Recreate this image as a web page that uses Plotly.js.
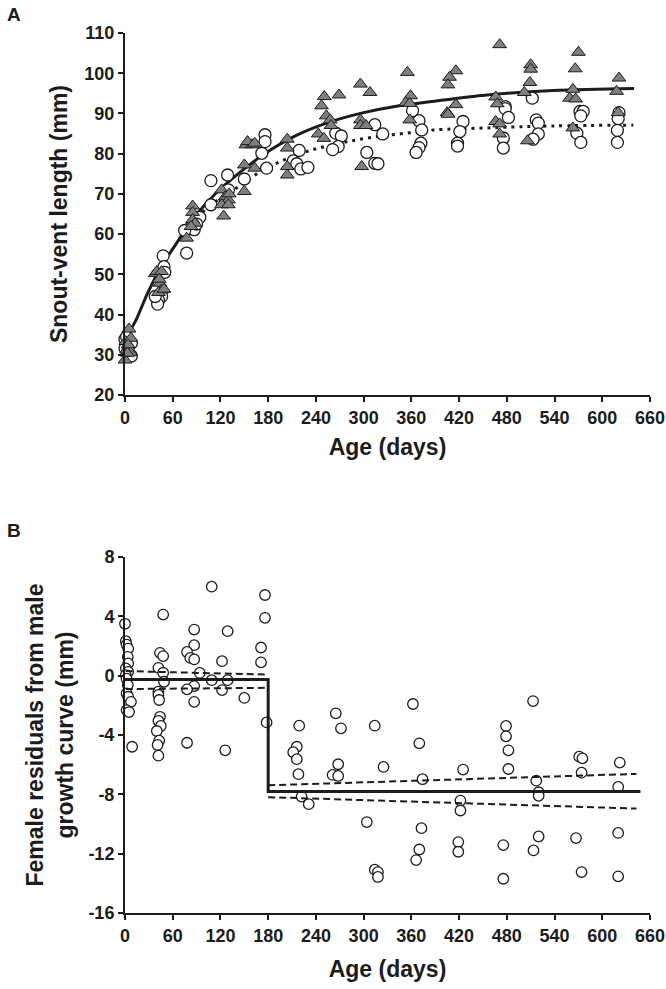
<!DOCTYPE html>
<html>
<head>
<meta charset="utf-8">
<script src="https://cdn.plot.ly/plotly-3.0.1.min.js"></script>
<style>
  html, body { margin: 0; padding: 0; background: #fff; }
  #plot { width: 666px; height: 989px; }
</style>
</head>
<body>
<div id="plot"></div>
<script>
// Panel A: measured snout-vent length (mm) against age (days)
const maleDays = [5, 1, 7.5, 2, 7, 0, 3, 4,
  38, 40, 46, 44, 46, 42, 49, 43,
  85, 85, 85, 88, 83, 77.5,
  121.5, 126, 130, 121.5, 130, 124, 131,
  152, 160, 154, 163, 150, 163, 150,
  204, 204, 204, 204,
  250.5, 247, 253, 258, 259, 243, 250, 269,
  296, 308, 296, 296, 303, 297.5,
  355, 359, 353, 358, 358,
  416, 408, 406, 416, 405, 406,
  471, 466, 468, 466, 471, 471,
  510, 510, 509, 502, 506,
  570, 566, 563, 559, 566.5, 563,
  621, 618, 620];
const maleSvl = [36.4, 33.3, 34.1, 31.2, 30.5, 28.7, 30.4, 32.5,
  50.2, 50.7, 50.7, 47.8, 46.1, 45.5, 46.3, 48.8,
  67.0, 65.4, 63.6, 62.7, 61.9, 59.0,
  71.0, 69.3, 68.5, 67.3, 67.3, 64.5, 70.0,
  82.2, 82.2, 83.0, 82.6, 77.2, 76.4, 70.6,
  83.6, 81.4, 76.8, 74.7,
  94.2, 91.9, 89.4, 88.4, 87.0, 84.9, 83.8, 94.6,
  97.3, 95.2, 88.4, 87.0, 87.0, 76.8,
  100.2, 94.4, 92.7, 92.5, 88.4,
  100.6, 99.0, 97.1, 92.2, 90.2, 89.8,
  107.1, 94.1, 92.4, 88.0, 87.4, 84.9,
  102.1, 101.0, 97.7, 95.2, 83.2,
  105.2, 101.1, 96.0, 93.8, 93.6, 86.4,
  98.8, 95.5, 90.2];

const femaleDays = [0, 8, 0, 8, 4, 2,
  48, 49, 46, 42, 41, 50, 38,
  94, 82, 87, 77.5, 75, 90,
  129, 108, 108, 126, 130,
  150, 176, 176, 172, 178,
  219, 211.5, 216, 221, 230,
  265, 272, 268, 261,
  314, 324, 304, 314, 318,
  361.5, 369.6, 373, 372, 369.6, 366,
  425, 421, 418, 418,
  478, 478, 482, 475.6, 475.6,
  512, 517, 519.6, 519.6, 513,
  572, 576, 573, 568, 573,
  621, 620, 619, 619];
const femaleSvl = [33.9, 32.9, 31.6, 29.7, 31.1, 34.5,
  54.6, 51.9, 44.5, 43.6, 42.6, 50.5, 44.5,
  64.2, 61.5, 61.1, 55.3, 60.9, 62.5,
  74.7, 73.3, 67.3, 68.1, 71.0,
  73.7, 84.7, 83.0, 80.1, 76.4,
  80.8, 78.2, 77.5, 76.2, 76.6,
  85.1, 84.4, 81.8, 81.0,
  87.2, 84.9, 80.3, 77.6, 77.5,
  90.7, 88.2, 85.9, 82.6, 81.5, 80.3,
  88.0, 85.5, 82.6, 81.9,
  91.7, 91.2, 89.0, 83.9, 81.4,
  93.8, 88.4, 87.6, 84.9, 83.6,
  90.5, 90.5, 89.4, 85.1, 82.8,
  90.2, 88.7, 85.8, 82.8];

// fitted growth curves
const maleCurveDays = [0, 4, 13, 29, 46, 63, 84, 113, 138, 163, 174, 216, 258, 300, 341, 383, 455, 538, 640];
const maleCurveSvl = [34.0, 35.3, 38.3, 45.6, 52.0, 57.2, 63.4, 69.9, 74.3, 78.2, 79.8, 84.6, 87.9, 90.2, 91.8, 92.9, 94.6, 95.7, 96.2];
const femaleCurveDays = [90, 98, 120, 149, 161, 186, 228, 270, 312, 358, 388, 455, 538, 639];
const femaleCurveSvl = [64.2, 65.6, 69.0, 72.6, 74.4, 77.2, 80.5, 82.6, 84.1, 85.2, 85.9, 86.4, 86.9, 87.1];

// Panel B: female residuals from the male growth curve (mm)
const residDays = [0, 1, 2, 4, 3.5, 4, 1, 4, 1, 2, 3.5, 2, 4, 7.5, 2, 5, 9,
  48, 44, 48, 42, 48, 49, 42, 42, 43, 44, 42, 45, 40, 43, 41, 42,
  87, 87, 78, 82, 87, 94, 87, 78, 87, 78,
  109, 129, 122, 109, 129, 122, 126,
  150,
  176, 176, 171, 171, 178,
  219, 216, 211.5, 216, 218, 222, 231,
  265, 271.5, 268, 261, 268,
  314, 325, 304, 314, 318, 318,
  362, 370, 374, 372.7, 370, 366,
  425, 421.7, 421.7, 419, 419,
  479, 479, 482, 482, 475.6, 475.6,
  513, 517, 520, 520, 520, 513.5,
  571, 575, 574, 567, 574,
  622, 620, 620, 620];
const residVals = [3.5, 2.33, 2.1, 1.83, 1.27, 0.83, 0.49, 0.26, 0.04, -0.2, -0.63, -1.19, -1.42, -1.76, -2.32, -2.45, -4.79,
  4.12, 1.54, 1.32, 0.53, 0.2, -0.41, -1.08, -1.3, -1.64, -2.77, -3.04, -3.39, -3.73, -4.38, -4.67, -5.39,
  3.11, 2.06, 1.6, 1.2, 1.1, 0.19, -0.7, -0.92, -1.76, -4.52,
  6.0, 3.0, 0.98, -0.3, -0.3, -0.97, -5.03,
  -1.5,
  5.44, 3.9, 1.9, 0.9, -3.15,
  -3.37, -4.79, -5.16, -5.63, -6.64, -8.15, -8.66,
  -2.54, -3.55, -5.97, -6.69, -6.76,
  -3.37, -6.15, -9.87, -13.08, -13.24, -13.57,
  -1.91, -4.56, -6.98, -10.28, -11.72, -12.43,
  -6.33, -8.42, -9.09, -11.22, -11.87,
  -3.39, -4.09, -5.03, -6.29, -11.42, -13.69,
  -1.71, -7.08, -7.86, -8.1, -10.84, -11.78,
  -5.46, -5.57, -6.54, -10.95, -13.24,
  -5.86, -7.5, -10.6, -13.53];

// step model (mean residual before / after 180 days) and its confidence bands
const stepDays = [0, 180, 180, 648];
const stepVals = [-0.25, -0.25, -7.8, -7.8];
const earlyCiDays = [1, 176];
const earlyCiUpper = [0.31, 0.08];
const earlyCiLower = [-0.9, -0.82];
const lateCiDays = [180, 643];
const lateCiUpper = [-7.39, -6.62];
const lateCiLower = [-8.19, -8.96];

const dayTicks = [0, 60, 120, 180, 240, 300, 360, 420, 480, 540, 600, 660];
const svlTicks = [20, 30, 40, 50, 60, 70, 80, 90, 100, 110];
const residTicks = [-16, -12, -8, -4, 0, 4, 8];
const residTickText = ['-16', '-12', '-8', '-4', '0', '4', '8'];

const ink = '#1c1c1c';
const fontFam = 'Liberation Sans, Arial, sans-serif';

const data = [
  {x: maleCurveDays, y: maleCurveSvl, xaxis: 'x', yaxis: 'y', mode: 'lines',
   line: {color: ink, width: 3, shape: 'spline'}},
  {x: femaleCurveDays, y: femaleCurveSvl, xaxis: 'x', yaxis: 'y', mode: 'lines',
   line: {color: ink, width: 3, dash: '3px,5px', shape: 'spline'}},
  {x: femaleDays, y: femaleSvl, xaxis: 'x', yaxis: 'y', mode: 'markers', cliponaxis: false,
   marker: {symbol: 'circle', size: 12, color: '#ffffff', line: {color: ink, width: 1.3}}},
  {x: maleDays, y: maleSvl, xaxis: 'x', yaxis: 'y', mode: 'markers', cliponaxis: false,
   marker: {symbol: 'triangle-up', size: 12, color: '#7f7f7f', line: {color: ink, width: 1}}},

  {x: residDays, y: residVals, xaxis: 'x2', yaxis: 'y2', mode: 'markers', cliponaxis: false,
   marker: {symbol: 'circle', size: 10.5, color: '#ffffff', line: {color: ink, width: 1.3}}},
  {x: stepDays, y: stepVals, xaxis: 'x2', yaxis: 'y2', mode: 'lines',
   line: {color: ink, width: 3}},
  {x: earlyCiDays, y: earlyCiUpper, xaxis: 'x2', yaxis: 'y2', mode: 'lines',
   line: {color: ink, width: 2, dash: '7px,4px'}},
  {x: earlyCiDays, y: earlyCiLower, xaxis: 'x2', yaxis: 'y2', mode: 'lines',
   line: {color: ink, width: 2, dash: '7px,4px'}},
  {x: lateCiDays, y: lateCiUpper, xaxis: 'x2', yaxis: 'y2', mode: 'lines',
   line: {color: ink, width: 2, dash: '7px,4px'}},
  {x: lateCiDays, y: lateCiLower, xaxis: 'x2', yaxis: 'y2', mode: 'lines',
   line: {color: ink, width: 2, dash: '7px,4px'}}
];

const tickFont = {family: fontFam, size: 18, color: ink, weight: 'bold'};
const titleFont = {family: fontFam, size: 23, color: ink, weight: 'bold'};

function axis(extra) {
  return Object.assign({
    showline: true, linewidth: 2, linecolor: ink,
    ticks: 'outside', ticklen: 5, tickwidth: 2, tickcolor: ink,
    showgrid: false, zeroline: false, tickfont: tickFont
  }, extra);
}

const layout = {
  width: 666, height: 989,
  margin: {l: 125, r: 16, t: 33, b: 76},
  showlegend: false,
  paper_bgcolor: '#fff', plot_bgcolor: '#fff',
  xaxis: axis({domain: [0, 1], anchor: 'y', range: [0, 660], tickvals: dayTicks,
    title: {text: 'Age (days)', font: titleFont, standoff: 12}}),
  yaxis: axis({domain: [0.5886, 1], anchor: 'x', range: [20, 110], tickvals: svlTicks,
    title: {text: 'Snout-vent length (mm)', font: titleFont, standoff: 10}}),
  xaxis2: axis({domain: [0, 1], anchor: 'y2', range: [0, 660], tickvals: dayTicks,
    title: {text: 'Age (days)', font: titleFont, standoff: 16}}),
  yaxis2: axis({domain: [0, 0.4045], anchor: 'x2', range: [-16, 8], tickvals: residTicks,
    ticktext: residTickText,
    title: {text: 'Female residuals from male<br>growth curve (mm)', font: titleFont, standoff: 8}}),
  annotations: [
    {text: 'A', xref: 'paper', yref: 'paper', x: -0.228, y: 1.0205, xanchor: 'left', yanchor: 'middle',
     showarrow: false, font: {family: fontFam, size: 19, color: ink, weight: 'bold'}},
    {text: 'B', xref: 'paper', yref: 'paper', x: -0.228, y: 0.4352, xanchor: 'left', yanchor: 'middle',
     showarrow: false, font: {family: fontFam, size: 19, color: ink, weight: 'bold'}}
  ]
};

Plotly.newPlot('plot', data, layout, {staticPlot: true});
</script>
</body>
</html>
